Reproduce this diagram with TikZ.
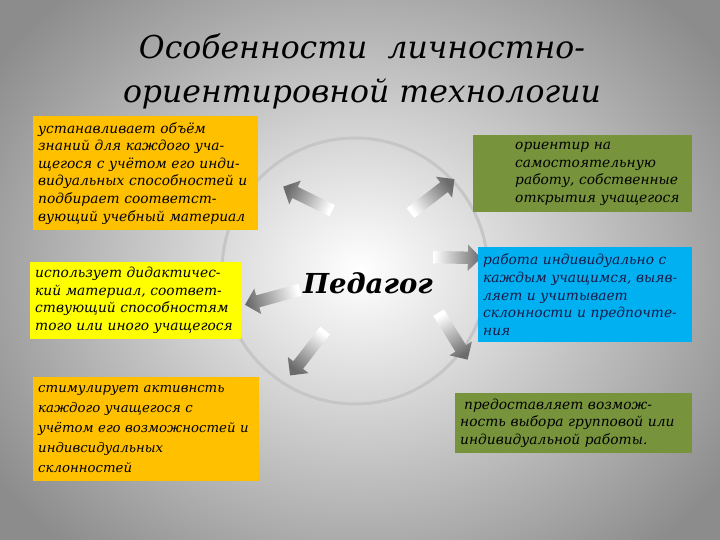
\documentclass[tikz,border=0pt]{standalone}
\usepackage{fontspec}
\setmainfont{DejaVu Serif}
\usetikzlibrary{shapes.arrows,calc}
\definecolor{boxorange}{HTML}{FFC000}
\definecolor{boxgreen}{HTML}{77933C}
\definecolor{boxyellow}{HTML}{FFFF00}
\definecolor{boxblue}{HTML}{00B0F0}
\definecolor{ringgray}{HTML}{C6C6C6}
\definecolor{navytext}{HTML}{1A1A48}
\tikzset{
  infobox/.style={anchor=north west, inner sep=5pt, align=left, text=black,
    font=\fontsize{13.8}{17.6}\selectfont\itshape},
  fadearrow/.style={single arrow, single arrow head extend=7pt, inner sep=6pt,
    shading=axis, top color=black!58, bottom color=white}
}
\begin{document}
\begin{tikzpicture}[x=1pt,y=-1pt]
  \useasboundingbox (0,0) rectangle (720,540);
  \begin{scope}
    \clip (0,0) rectangle (720,540);
    \shade[inner color=white, outer color=black!45] (-80,-100) rectangle (800,640);
  \end{scope}
  \coordinate (mid) at (355,271);
  \draw[ringgray, line width=3pt] (mid) circle (133);
  \node[font=\fontsize{31.5}{44}\selectfont\itshape, align=center] (title) at (362,71)
    {Особенности\ \ личностно-\\ориентировной технологии};
  \node[font=\fontsize{27.5}{36}\selectfont\bfseries\itshape] (ped) at (368,283) {Педагог};
  \coordinate (t1) at (335,212); \coordinate (h1) at (286,188);
  \coordinate (t2) at (408,215); \coordinate (h2) at (452,181);
  \coordinate (t3) at (430,257); \coordinate (h3) at (478,258);
  \coordinate (t4) at (303,289); \coordinate (h4) at (248,304);
  \coordinate (t5) at (327,328); \coordinate (h5) at (292,373);
  \coordinate (t6) at (437,310); \coordinate (h6) at (466,357);
  \foreach \t/\h in {t1/h1,t2/h2,t3/h3,t4/h4,t5/h5,t6/h6}
    \path let \p1=(\t), \p2=(\h), \n1={atan2(\y2-\y1,\x2-\x1)},
      \n2={veclen(\x2-\x1,\y2-\y1)} in
      node[fadearrow, shading angle=\n1-90, rotate=\n1, minimum height=\n2]
        at ($(\t)!.5!(\h)$) {};
  \node[infobox, fill=boxorange, minimum width=225, minimum height=114, text width=215]
    (ustan) at (33,116)
    {устанавливает объём\\знаний для каждого уча-\\щегося с учётом его инди-\\видуальных способностей и\\подбирает соответст-\\вующий учебный материал};
  \node[infobox, fill=boxgreen, minimum width=219, minimum height=77, text width=209]
    (orient) at (473,135)
    {\leftskip=37pt ориентир на\\самостоятельную\\работу, собственные\\открытия учащегося\par};
  \node[infobox, fill=boxyellow, minimum width=211, minimum height=76, text width=201]
    (ispolz) at (30,262)
    {использует дидактичес-\\кий материал, соответ-\\ствующий способностям\\того или иного учащегося};
  \node[infobox, fill=boxblue, text=navytext, minimum width=214, minimum height=95, text width=204]
    (rabota) at (478,247)
    {работа индивидуально с\\каждым учащимся, выяв-\\ляет и учитывает\\склонности и предпочте-\\ния};
  \node[infobox, fill=boxorange, minimum width=226, minimum height=104, text width=216,
    font=\fontsize{13.3}{20}\selectfont\itshape]
    (stimul) at (33,377)
    {стимулирует активнсть\\каждого учащегося с\\учётом его возможностей и\\индивсидуальных\\склонностей};
  \node[infobox, fill=boxgreen, minimum width=237, minimum height=60, text width=227]
    (predost) at (455,393)
    {\hspace*{4pt}предоставляет возмож-\\ность выбора групповой или\\индивидуальной работы.};
\end{tikzpicture}
\end{document}
